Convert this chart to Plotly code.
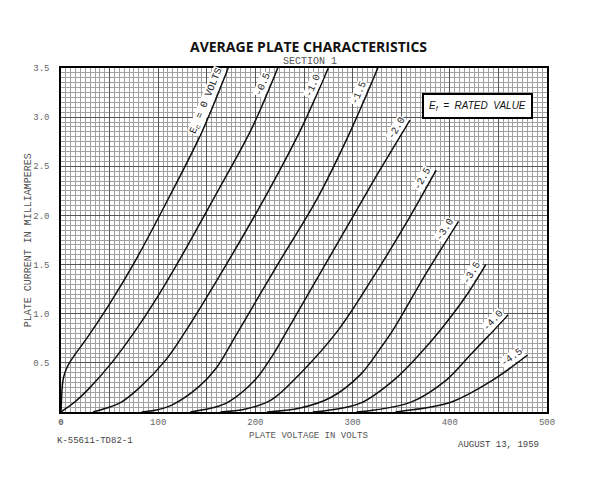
import math
import plotly.graph_objects as go

# ---- data (plate volts, plate milliamperes) ----
grid_labels = ["E<sub>c</sub> = 0 VOLTS", "-0.5", "-1.0", "-1.5", "-2.0",
               "-2.5", "-3.0", "-3.5", "-4.0", "-4.5"]

v_0 = [0, 0.5, 1, 2, 4, 7.5, 14, 20, 30, 50, 76, 112, 145, 172]
i_0 = [0, 0.12, 0.22, 0.32, 0.40, 0.48, 0.58, 0.66, 0.80, 1.10, 1.53, 2.20, 2.85, 3.50]

v_05 = [0, 7, 14, 28, 52, 76, 98, 122, 162, 196, 223]
i_05 = [0, 0.05, 0.10, 0.23, 0.50, 0.82, 1.15, 1.55, 2.26, 2.88, 3.50]

v_10 = [33, 47, 62, 80, 107, 128, 170, 213, 247, 275]
i_10 = [0, 0.04, 0.10, 0.24, 0.52, 0.82, 1.50, 2.24, 2.88, 3.50]

v_15 = [83, 98, 114, 141, 160, 180, 221, 263, 297, 326]
i_15 = [0, 0.02, 0.07, 0.25, 0.45, 0.78, 1.47, 2.16, 2.84, 3.50]

v_20 = [133, 155, 172, 200, 216, 231, 266, 308, 328, 359]
i_20 = [0, 0.04, 0.10, 0.33, 0.55, 0.80, 1.40, 2.12, 2.46, 2.97]

v_25 = [164, 190, 216, 246, 285, 328, 358, 386]
i_25 = [0, 0.03, 0.12, 0.39, 0.83, 1.48, 1.97, 2.46]

v_30 = [212, 246, 278, 308, 328, 342, 375, 409]
i_30 = [0, 0.04, 0.15, 0.38, 0.64, 0.84, 1.40, 1.94]

v_35 = [259, 270, 308, 343, 370, 390, 416, 437]
i_35 = [0, 0.01, 0.09, 0.33, 0.60, 0.83, 1.17, 1.50]

v_40 = [304, 315, 360, 397, 421, 445, 460]
i_40 = [0, 0.01, 0.10, 0.33, 0.58, 0.83, 0.99]

v_45 = [344, 352, 401, 445, 480]
i_45 = [0, 0.01, 0.10, 0.33, 0.58]

x_tick_vals = [0, 50, 100, 150, 200, 250, 300, 350, 400, 450, 500]
x_tick_text = ["<b>0</b>", "", "100", "", "200", "", "300", "", "400", "", "500"]
y_tick_vals = [0, 0.5, 1.0, 1.5, 2.0, 2.5, 3.0, 3.5]
y_tick_text = ["", "0.5", "1.0", "1.5", "2.0", "2.5", "3.0", "3.5"]

curves = [(v_0, i_0), (v_05, i_05), (v_10, i_10), (v_15, i_15), (v_20, i_20),
          (v_25, i_25), (v_30, i_30), (v_35, i_35), (v_40, i_40), (v_45, i_45)]

# ---- layout geometry (page body adds an ~8px offset) ----
W, H = 592, 486
ML, MR, MT, MB = 53, 53, 60, 82
XMAX, YMAX = 500, 3.5
PW, PH = W - ML - MR, H - MT - MB
pxv = PW / XMAX
pxi = PH / YMAX

MONO = "Liberation Mono, DejaVu Sans Mono, monospace"
LBL_SIZE = 10
label_gap = [3, 9, 11, 18, 2, 2, 2, 2, 2, 2]

fig = go.Figure()
for (v, i) in curves:
    fig.add_trace(go.Scatter(x=v, y=i, mode="lines",
                             line=dict(color="#111111", width=1.5, shape="spline", smoothing=1.0),
                             hoverinfo="skip", showlegend=False))

annotations = []
for k, ((v, i), txt) in enumerate(zip(curves, grid_labels)):
    dx = (v[-1] - v[-2]) * pxv
    dy = (i[-1] - i[-2]) * pxi
    th = math.atan2(dy, dx)
    nchar = len(txt.replace("<sub>", "").replace("</sub>", ""))
    half = nchar * 0.6 * LBL_SIZE / 2
    along = half + label_gap[k]
    perp = 7
    xs = -along * math.cos(th) - perp * math.sin(th)
    ys = -along * math.sin(th) + perp * math.cos(th)
    annotations.append(dict(x=v[-1], y=i[-1], xref="x", yref="y", text=txt,
                            showarrow=False, textangle=-math.degrees(th),
                            xanchor="center", yanchor="middle",
                            xshift=xs, yshift=ys, bgcolor="white", borderpad=0,
                            font=dict(family=MONO, size=LBL_SIZE, color="#222222")))

# rated value box
annotations.append(dict(x=428, y=3.11, xref="x", yref="y",
                        text="<i>E<sub>f</sub>  =  RATED  VALUE</i>", showarrow=False,
                        xanchor="center", yanchor="middle",
                        bgcolor="white", bordercolor="black", borderwidth=2, borderpad=5,
                        font=dict(family="Liberation Sans, Arial", size=10, color="#111111")))

# reference-pixel -> paper coordinates (plot area: x 61..547, y 68.5..413)
def py(ypx):
    return (413 - ypx) / 344.5

def pxx(xpx):
    return (xpx - 61) / 486

def txt_ann(x, y, text, size, color="#555555", family=MONO, xanchor="center", angle=0):
    return dict(x=pxx(x), y=py(y), xref="paper", yref="paper", showarrow=False,
                xanchor=xanchor, yanchor="middle", textangle=angle, text=text,
                font=dict(family=family, size=size, color=color))

annotations += [
    txt_ann(308, 47, "<b>AVERAGE PLATE CHARACTERISTICS</b>", 14, "#111111",
            family="Open Sans, DejaVu Sans"),
    txt_ann(310, 62, "SECTION 1", 10),
    txt_ann(308, 437, "PLATE VOLTAGE IN VOLTS", 9),
    txt_ann(28, 241, "PLATE CURRENT IN MILLIAMPERES", 10, angle=-90),
    txt_ann(55, 442, "K-55611-TD82-1", 9, "#444444", xanchor="left"),
    txt_ann(541, 446, "AUGUST 13, 1959", 9, "#444444", xanchor="right"),
]

fig.update_layout(
    width=W, height=H, autosize=False,
    margin=dict(l=ML, r=MR, t=MT, b=MB, autoexpand=False),
    paper_bgcolor="white", plot_bgcolor="white",
    annotations=annotations,
)
fig.update_xaxes(range=[0, XMAX], tickvals=x_tick_vals, ticktext=x_tick_text,
                 showgrid=True, gridcolor="#555555", gridwidth=1,
                 minor=dict(dtick=5, showgrid=True, gridcolor="#a0a0a0", gridwidth=0.7),
                 showline=True, linecolor="black", linewidth=1.5, mirror=True,
                 zeroline=False, ticks="", ticklabelstandoff=0, automargin=False,
                 tickfont=dict(family=MONO, size=9, color="#666666"))
fig.update_yaxes(range=[0, YMAX], tickvals=y_tick_vals, ticktext=y_tick_text,
                 showgrid=True, gridcolor="#555555", gridwidth=1,
                 minor=dict(dtick=0.05, showgrid=True, gridcolor="#a0a0a0", gridwidth=0.7),
                 showline=True, linecolor="black", linewidth=1.5, mirror=True,
                 zeroline=False, ticks="", ticklabelstandoff=8, automargin=False,
                 tickfont=dict(family=MONO, size=9, color="#666666"))

fig.write_html("out.html")
